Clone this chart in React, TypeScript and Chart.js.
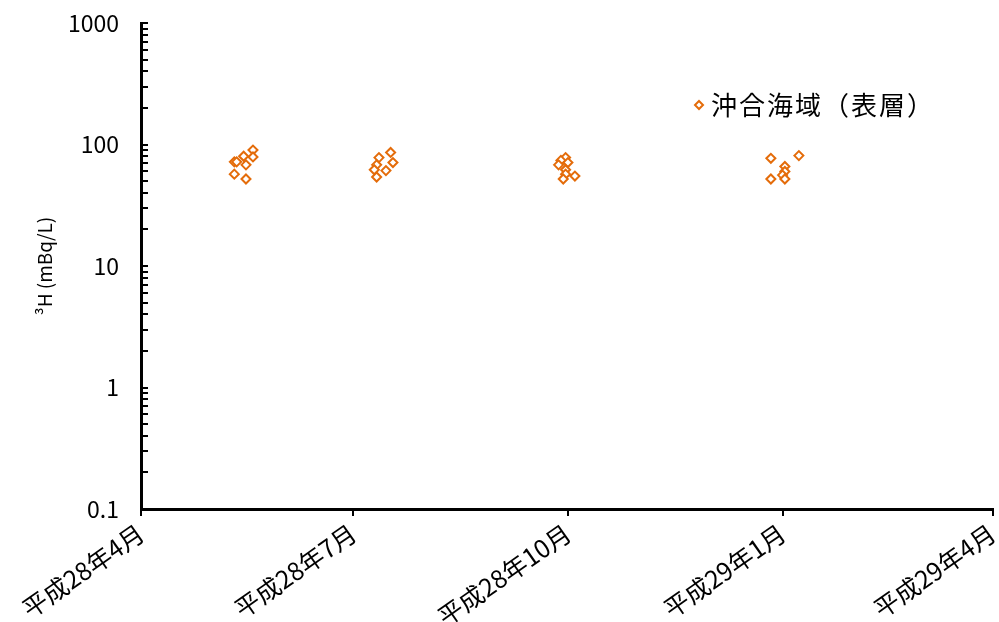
import React, { useEffect, useRef } from "react";
import { Chart, registerables } from "chart.js";

Chart.register(...registerables);

const seriesName = "沖合海域（表層）";
const startDate = "2016-04-01";
const xTickDates = ["2016-04-01", "2016-07-01", "2016-10-01", "2017-01-01", "2017-04-01"];
const xTickLabels = ["平成28年4月", "平成28年7月", "平成28年10月", "平成29年1月", "平成29年4月"];
const yTickValues = [0.1, 1, 10, 100, 1000];
const yTickLabels = ["0.1", "1", "10", "100", "1000"];
const yTitle = "³H (mBq/L)";

const sampleDates = [
  "2016-05-11", "2016-05-12", "2016-05-15", "2016-05-19", "2016-05-19", "2016-05-16", "2016-05-11", "2016-05-16",
  "2016-07-17", "2016-07-12", "2016-07-18", "2016-07-11", "2016-07-10", "2016-07-15", "2016-07-11",
  "2016-09-30", "2016-09-28", "2016-09-27", "2016-10-01", "2016-09-30", "2016-09-30", "2016-09-29", "2016-10-04",
  "2016-12-27", "2017-01-08", "2017-01-02", "2017-01-02", "2017-01-01", "2017-01-02", "2016-12-27",
];
const sampleValues = [
  72, 72, 80, 90, 79, 68, 57, 52,
  86, 78, 71, 68, 62, 61, 54,
  78, 74, 68, 71, 62, 57, 52, 55,
  77, 81, 66, 60, 56, 52, 52,
];

const COLOR = "#E46C0A";
const FONT = "'Noto Sans CJK JP', 'Noto Sans', sans-serif";

const dayOf = (d: string) => (Date.parse(d) - Date.parse(startDate)) / 86400000;

const innerTicks = {
  id: "innerTicks",
  afterDraw(chart: any) {
    const { ctx, chartArea } = chart;
    const y = chart.scales.y;
    ctx.save();
    ctx.strokeStyle = "#000";
    ctx.lineWidth = 2;
    for (let d = 0.1; d < 1000; d *= 10) {
      for (let k = 1; k <= 10; k++) {
        const py = Math.round(y.getPixelForValue(k * d));
        ctx.beginPath();
        ctx.moveTo(chartArea.left, py);
        ctx.lineTo(chartArea.left + 7, py);
        ctx.stroke();
      }
    }
    ctx.restore();
  },
};

const legendPlugin = {
  id: "customLegend",
  afterDraw(chart: any) {
    const { ctx } = chart;
    const x = 699;
    const y = 105;
    ctx.save();
    ctx.strokeStyle = COLOR;
    ctx.lineWidth = 2;
    ctx.beginPath();
    ctx.moveTo(x, y - 4);
    ctx.lineTo(x + 4, y);
    ctx.lineTo(x, y + 4);
    ctx.lineTo(x - 4, y);
    ctx.closePath();
    ctx.stroke();
    ctx.fillStyle = "#000";
    ctx.font = `26px ${FONT}`;
    (ctx as any).letterSpacing = "2px";
    ctx.textBaseline = "middle";
    ctx.textAlign = "left";
    ctx.fillText(seriesName, 711, y);
    ctx.restore();
  },
};

export default function App() {
  const ref = useRef<HTMLCanvasElement>(null);
  useEffect(() => {
    document.body.style.margin = "0";
    const data = sampleDates.map((d, i) => ({ x: dayOf(d), y: sampleValues[i] }));
    const xTicks = xTickDates.map(dayOf);
    const chart = new Chart(ref.current!, {
      type: "scatter",
      data: {
        datasets: [
          {
            label: seriesName,
            data,
            pointStyle: "rectRot",
            pointRadius: 4.5,
            pointBorderWidth: 2,
            borderColor: COLOR,
            backgroundColor: "rgba(0,0,0,0)",
            pointBackgroundColor: "#fff",
          },
        ],
      },
      options: {
        animation: false,
        responsive: false,
        layout: { padding: { top: 23, right: 2, left: 0, bottom: 0 } },
        plugins: { legend: { display: false }, tooltip: { enabled: false } },
        scales: {
          x: {
            type: "linear",
            min: xTicks[0],
            max: xTicks[xTicks.length - 1],
            afterBuildTicks: (s: any) => {
              s.ticks = xTicks.map((v) => ({ value: v }));
            },
            afterFit: (s: any) => {
              s.height = 113;
              s.paddingLeft = 0;
              s.paddingRight = 0;
            },
            ticks: {
              autoSkip: false,
              minRotation: 35,
              maxRotation: 35,
              color: "#000",
              padding: 2,
              font: { family: FONT, size: 25 },
              callback: (v: any) => {
                const i = xTicks.indexOf(Number(v));
                return i >= 0 ? xTickLabels[i] : "";
              },
            },
            grid: { drawOnChartArea: false, drawTicks: true, tickLength: 7, color: "#000", lineWidth: 2 },
            border: { color: "#000", width: 3 },
          },
          y: {
            type: "logarithmic",
            min: yTickValues[0],
            max: yTickValues[yTickValues.length - 1],
            afterBuildTicks: (s: any) => {
              s.ticks = yTickValues.map((v) => ({ value: v, major: true }));
            },
            afterFit: (s: any) => {
              s.width = 141;
              s.paddingTop = 0;
              s.paddingBottom = 0;
            },
            ticks: {
              color: "#000",
              padding: 22,
              font: { family: FONT, size: 23 },
              callback: (v: any) => {
                const i = yTickValues.findIndex((t) => Math.abs(t - Number(v)) / t < 1e-6);
                return i >= 0 ? yTickLabels[i] : "";
              },
            },
            title: {
              display: true,
              text: yTitle,
              color: "#000",
              font: { family: FONT, size: 19 },
              padding: { top: 33, bottom: 0 },
            },
            grid: { drawOnChartArea: false, drawTicks: false },
            border: { color: "#000", width: 3 },
          },
        },
      },
      plugins: [innerTicks, legendPlugin],
    });
    return () => chart.destroy();
  }, []);
  return <canvas ref={ref} width={999} height={622} style={{ display: "block" }} />;
}
